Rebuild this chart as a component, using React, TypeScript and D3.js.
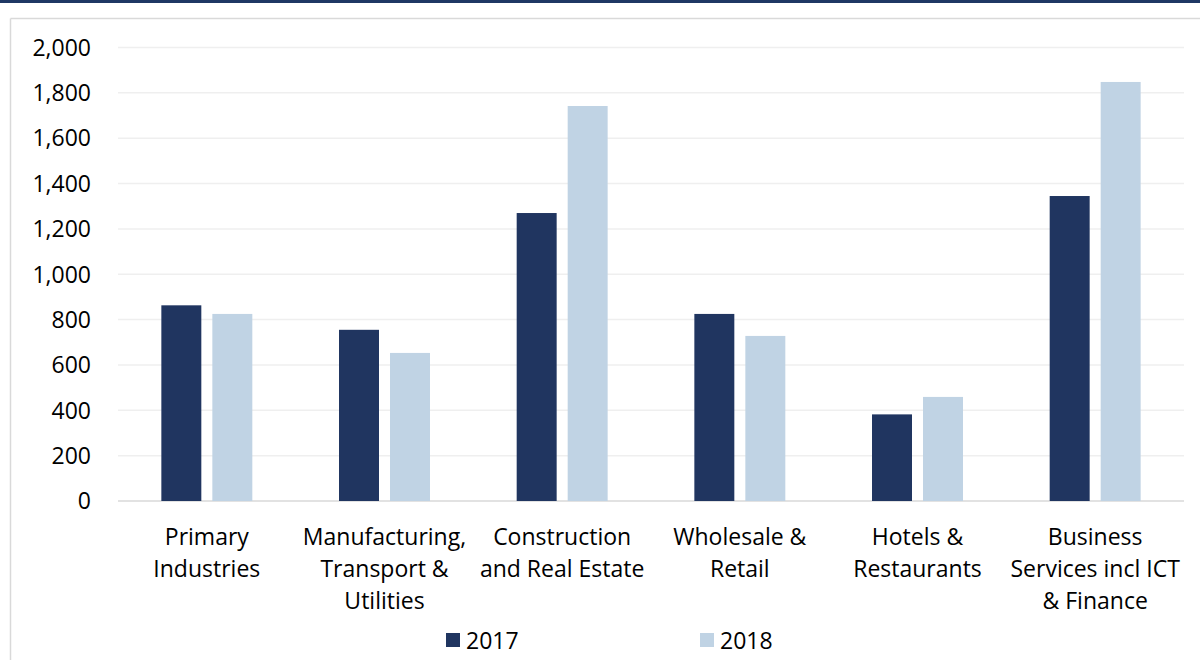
import React from 'react';
import * as d3 from 'd3';

const categories = [
    ['Primary', 'Industries'],
    ['Manufacturing,', 'Transport &', 'Utilities'],
    ['Construction', 'and Real Estate'],
    ['Wholesale &', 'Retail'],
    ['Hotels &', 'Restaurants'],
    ['Business', 'Services incl ICT', '& Finance'],
];
const series = ['2017', '2018'];
const values2017 = [863, 755, 1270, 825, 382, 1345];
const values2018 = [825, 653, 1742, 728, 459, 1848];
const yTicks = [0, 200, 400, 600, 800, 1000, 1200, 1400, 1600, 1800, 2000];

const colors = ['#203560', '#c0d3e4'];
const font = '"Open Sans", Lato, sans-serif';

const App: React.FC = () => {
    const width = 1200;
    const height = 660;
    const margin = { top: 47.5, left: 118, right: 16, bottom: 159 };

    const x = d3.scaleBand<number>()
        .domain(d3.range(categories.length))
        .range([margin.left, width - margin.right])
        .paddingInner(0)
        .paddingOuter(0);

    const y = d3.scaleLinear()
        .domain([0, 2000])
        .range([height - margin.bottom, margin.top]);

    // two bars per group, 40px wide with an 11px gap
    const x1 = d3.scaleBand<number>()
        .domain([0, 1])
        .range([0, x.bandwidth()])
        .paddingInner(0.216)
        .paddingOuter(0.85);

    const fmt = d3.format(',');
    const data = [values2017, values2018];

    return (
        <svg width={width} height={height}
            style={{ position: 'absolute', left: 0, top: 0, background: '#fff' }}>
            {/* top rule and frame */}
            <rect x={0} y={0} width={width} height={3} fill="#1f3864" />
            <line x1={10.5} y1={18.5} x2={width} y2={18.5} stroke="#d9d9d9" strokeWidth={1.5} />
            <line x1={10.5} y1={18.5} x2={10.5} y2={height} stroke="#d9d9d9" strokeWidth={1.5} />

            {/* gridlines */}
            {yTicks.map(t => (
                <line key={t} x1={margin.left} x2={width - margin.right}
                    y1={y(t)} y2={y(t)}
                    stroke={t === 0 ? '#d9d9d9' : '#efefef'} strokeWidth={1.5} />
            ))}
            {yTicks.map(t => (
                <text key={'l' + t} x={91} y={y(t)} dy="0.36em" textAnchor="end"
                    fontFamily={font} fontSize={23} fill="#000">{fmt(t)}</text>
            ))}

            {/* bars */}
            {data.map((vals, s) => vals.map((v, i) => (
                <rect key={s + '-' + i}
                    x={(x(i) || 0) + (x1(s) || 0)}
                    y={y(v)}
                    width={x1.bandwidth()}
                    height={y(0) - y(v)}
                    fill={colors[s]} />
            )))}

            {/* category labels */}
            {categories.map((lines, i) => (
                <text key={'c' + i} textAnchor="middle" fontFamily={font} fontSize={23} fill="#000">
                    {lines.map((ln, j) => (
                        <tspan key={j} x={(x(i) || 0) + x.bandwidth() / 2} y={545 + j * 32}>{ln}</tspan>
                    ))}
                </text>
            ))}

            {/* legend */}
            {series.map((s, i) => (
                <g key={s} transform={`translate(${446 + i * 254},633)`}>
                    <rect x={0} y={0} width={14} height={14} fill={colors[i]} />
                    <text x={20} y={15.5} fontFamily={font} fontSize={23} fill="#000">{s}</text>
                </g>
            ))}
        </svg>
    );
};

export default App;
